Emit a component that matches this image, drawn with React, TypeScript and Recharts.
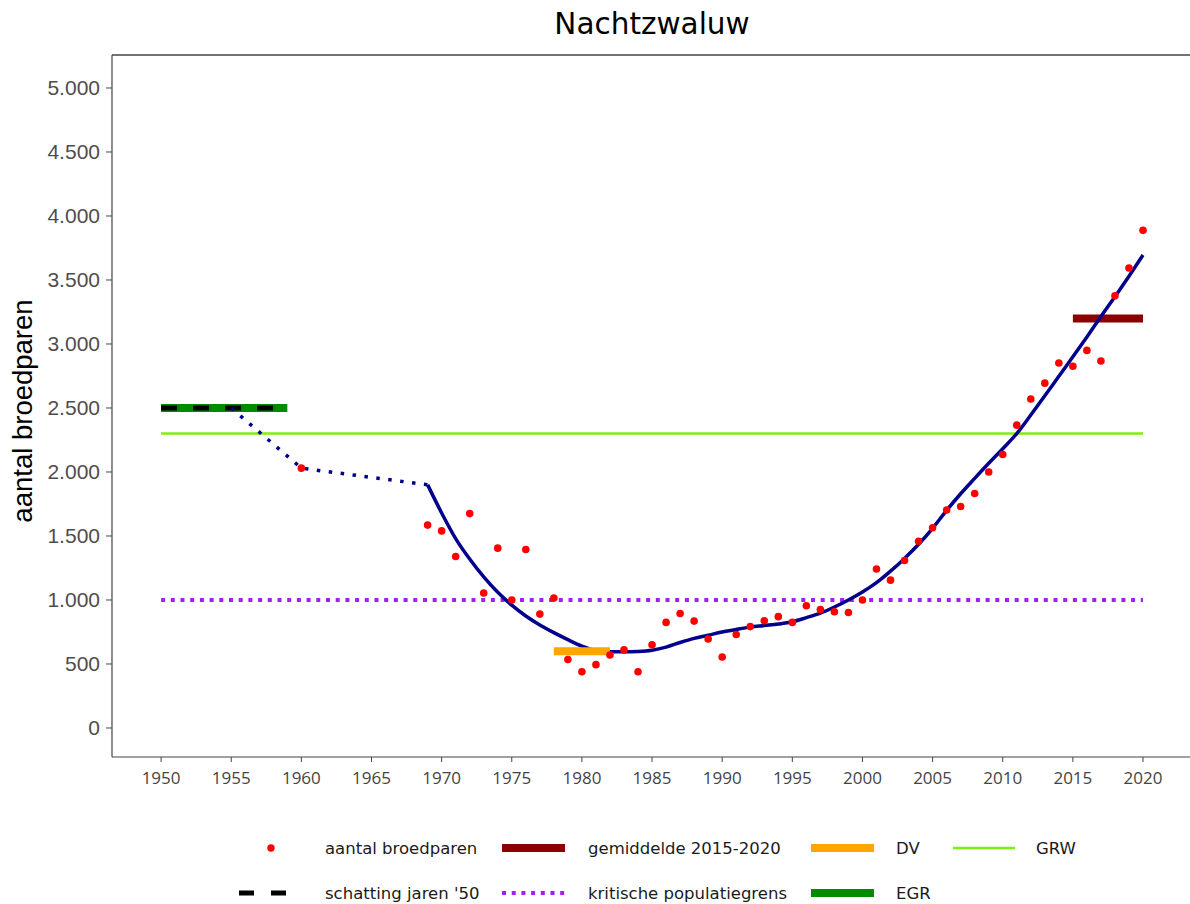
import React from 'react';
import { ComposedChart, Line, Scatter, XAxis, YAxis, ReferenceLine } from 'recharts';

// ---- data ----
const countYears = [1960, 1969, 1970, 1971, 1972, 1973, 1974, 1975, 1976, 1977, 1978, 1979, 1980, 1981, 1982, 1983, 1984, 1985, 1986, 1987, 1988, 1989, 1990, 1991, 1992, 1993, 1994, 1995, 1996, 1997, 1998, 1999, 2000, 2001, 2002, 2003, 2004, 2005, 2006, 2007, 2008, 2009, 2010, 2011, 2012, 2013, 2014, 2015, 2016, 2017, 2018, 2019, 2020];
const countValues = [2030, 1585, 1540, 1340, 1675, 1055, 1405, 1000, 1395, 890, 1015, 535, 440, 495, 570, 610, 440, 650, 825, 895, 835, 695, 555, 730, 792, 838, 870, 825, 955, 925, 908, 902, 1000, 1242, 1155, 1308, 1458, 1565, 1703, 1730, 1832, 2000, 2137, 2366, 2570, 2694, 2852, 2826, 2950, 2867, 3376, 3594, 3888];

const trendYears = [1969, 1970, 1971, 1972, 1973, 1974, 1975, 1976, 1977, 1978, 1979, 1980, 1981, 1982, 1983, 1984, 1985, 1986, 1987, 1988, 1989, 1990, 1991, 1992, 1993, 1994, 1995, 1996, 1997, 1998, 1999, 2000, 2001, 2002, 2003, 2004, 2005, 2006, 2007, 2008, 2009, 2010, 2011, 2012, 2013, 2014, 2015, 2016, 2017, 2018, 2019, 2020];
const trendValues = [1900, 1680, 1480, 1320, 1180, 1060, 960, 875, 805, 745, 690, 640, 605, 595, 595, 598, 608, 632, 668, 700, 725, 750, 770, 788, 800, 812, 830, 862, 897, 945, 1000, 1062, 1135, 1225, 1325, 1435, 1560, 1700, 1830, 1950, 2068, 2182, 2300, 2445, 2595, 2748, 2900, 3055, 3215, 3370, 3530, 3695];

const estYears = [1955, 1960, 1969];
const estValues = [2500, 2030, 1900];

const xTicks = [1950, 1955, 1960, 1965, 1970, 1975, 1980, 1985, 1990, 1995, 2000, 2005, 2010, 2015, 2020];
const yTicks = [0, 500, 1000, 1500, 2000, 2500, 3000, 3500, 4000, 4500, 5000];

const grwValue = 2300;
const grwYears = [1950, 2020];
const kritischValue = 1000;
const kritischYears = [1950, 2020];
const egrValue = 2500;
const egrYears = [1950, 1959];
const schattingValue = 2500;
const schattingYears = [1950, 1959];
const dvValue = 600;
const dvYears = [1978, 1982];
const meanValue = 3200;
const meanYears = [2015, 2020];

const title = 'Nachtzwaluw';
const yTitle = 'aantal broedparen';

const seg = (years: number[], v: number) => years.map((year) => ({ year, v }));
const countData = countYears.map((year, i) => ({ year, v: countValues[i] }));
const trendData = trendYears.map((year, i) => ({ year, v: trendValues[i] }));
const estData = estYears.map((year, i) => ({ year, v: estValues[i] }));

const fmt = (v: number) => (v >= 1000 ? `${Math.floor(v / 1000)}.${String(v % 1000).padStart(3, '0')}` : String(v));

const NAVY = '#00008B';

function LegendBlock() {
  const tx = { fontFamily: 'DejaVu Sans', fontSize: 16.5, fill: '#1a1a1a' } as const;
  const r1 = 848;
  const r2 = 893;
  return (
    <svg width={1190} height={904} style={{ position: 'absolute', left: 0, top: 0, pointerEvents: 'none' }}>
      <circle cx={271} cy={r1} r={3.7} fill="#FF0000" />
      <text x={325} y={r1} dominantBaseline="central" {...tx}>aantal broedparen</text>
      <rect x={502} y={r1 - 4} width={63} height={8} fill="#8B0000" />
      <text x={588} y={r1} dominantBaseline="central" {...tx}>gemiddelde 2015-2020</text>
      <rect x={811} y={r1 - 4} width={63} height={8} fill="#FFA500" />
      <text x={896} y={r1} dominantBaseline="central" {...tx}>DV</text>
      <line x1={953} x2={1015} y1={r1} y2={r1} stroke="#7CEE10" strokeWidth={2.5} />
      <text x={1036} y={r1} dominantBaseline="central" {...tx}>GRW</text>

      <line x1={239} x2={286} y1={r2} y2={r2} stroke="#000" strokeWidth={5} strokeDasharray="15 17" />
      <text x={325} y={r2} dominantBaseline="central" {...tx}>schatting jaren '50</text>
      <line x1={502} x2={565} y1={r2} y2={r2} stroke="#A020F0" strokeWidth={4} strokeDasharray="4 5.7" />
      <text x={588} y={r2} dominantBaseline="central" {...tx}>kritische populatiegrens</text>
      <rect x={811} y={r2 - 4} width={63} height={8} fill="#008B00" />
      <text x={896} y={r2} dominantBaseline="central" {...tx}>EGR</text>

      <text x={652} y={24} textAnchor="middle" dominantBaseline="central" fontFamily="DejaVu Sans" fontSize={29.5} fill="#000">{title}</text>
      <text x={22} y={411} textAnchor="middle" dominantBaseline="central" transform="rotate(-90 22 411)" fontFamily="Liberation Sans" fontSize={27.5} fill="#000">{yTitle}</text>
    </svg>
  );
}

export default function App() {
  const xDomain: [number, number] = [1946.5, 2023.35];
  const yDomain: [number, number] = [-226.6, 5257.8];
  return (
    <div style={{ position: 'absolute', left: 0, top: 0, width: 1190, height: 904, background: '#fff' }}>
      <ComposedChart width={1190} height={904} margin={{ top: 55, right: 0, bottom: 117, left: 0 }}>
        <XAxis
          dataKey="year"
          type="number"
          domain={xDomain}
          ticks={xTicks}
          allowDataOverflow
          height={30}
          tickSize={5}
          tickMargin={10}
          stroke="#444"
          tick={{ fontFamily: 'Open Sans', fontSize: 17, fill: '#444' }}
          tickLine={{ stroke: '#444' }}
          axisLine={{ stroke: '#444', strokeWidth: 1.2 }}
        />
        <YAxis
          type="number"
          domain={yDomain}
          ticks={yTicks}
          allowDataOverflow
          width={112}
          tickSize={6}
          tickMargin={6}
          tickFormatter={fmt}
          tick={{ fontFamily: 'Liberation Sans', fontSize: 21, fill: '#4D4D4D' }}
          tickLine={{ stroke: '#444' }}
          axisLine={{ stroke: '#444', strokeWidth: 1.2 }}
        />
        <ReferenceLine y={5257.8} stroke="#444" strokeWidth={1.5} />
        <Line data={seg(grwYears, grwValue)} dataKey="v" stroke="#7CEE10" strokeWidth={2.5} dot={false} isAnimationActive={false} />
        <Line data={seg(kritischYears, kritischValue)} dataKey="v" stroke="#A020F0" strokeWidth={4} strokeDasharray="4 5.7" dot={false} isAnimationActive={false} />
        <Line data={seg(egrYears, egrValue)} dataKey="v" stroke="#008B00" strokeWidth={8} dot={false} isAnimationActive={false} />
        <Line data={seg(schattingYears, schattingValue)} dataKey="v" stroke="#000" strokeWidth={5} strokeDasharray="16 16" dot={false} isAnimationActive={false} />
        <Line data={seg(meanYears, meanValue)} dataKey="v" stroke="#8B0000" strokeWidth={8} dot={false} isAnimationActive={false} />
        <Line data={estData} dataKey="v" stroke={NAVY} strokeWidth={3.5} strokeDasharray="3.5 8.5" dot={false} isAnimationActive={false} />
        <Line data={trendData} dataKey="v" type="monotone" stroke={NAVY} strokeWidth={3.5} dot={false} isAnimationActive={false} />
        <Line data={seg(dvYears, dvValue)} dataKey="v" stroke="#FFA500" strokeWidth={8} dot={false} isAnimationActive={false} />
        <Scatter
          data={countData}
          dataKey="v"
          isAnimationActive={false}
          shape={(p: any) => <circle cx={p.cx} cy={p.cy} r={3.8} fill="#FF0000" />}
        />
      </ComposedChart>
      <LegendBlock />
    </div>
  );
}
